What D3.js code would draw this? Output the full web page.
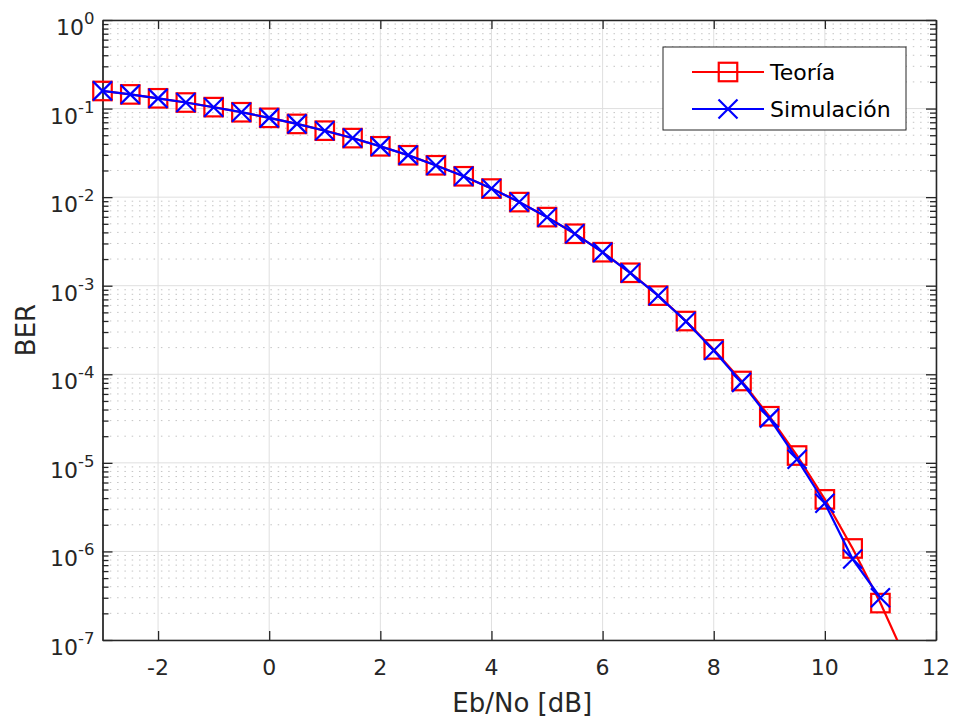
<!DOCTYPE html>
<html>
<head>
<meta charset="utf-8">
<script src="https://cdn.jsdelivr.net/npm/d3@7"></script>
<style>
	body { margin: 0; background: #fff; }
	svg { display: block; font-family: "DejaVu Sans", sans-serif; }
</style>
</head>
<body>
<script>
// Data
const theoryEbNo = [-3, -2.5, -2, -1.5, -1, -0.5, 0, 0.5, 1, 1.5, 2, 2.5, 3, 3.5, 4, 4.5, 5, 5.5, 6, 6.5, 7, 7.5, 8, 8.5, 9, 9.5, 10, 10.5, 11, 11.5, 12];
const theoryBer = [0.158, 0.1445, 0.1306, 0.117, 0.1038, 0.0909, 0.0786, 0.0671, 0.0563, 0.0464, 0.0375, 0.0297, 0.0229, 0.0172, 0.0125, 0.00879, 0.00595, 0.00386, 0.00239, 0.0014, 0.000773, 0.000399, 0.000191, 8.4e-5, 3.36e-5, 1.21e-5, 3.87e-6, 1.08e-6, 2.61e-7, 5.3e-8, 9.0e-9];

const simEbNo = [-3, -2.5, -2, -1.5, -1, -0.5, 0, 0.5, 1, 1.5, 2, 2.5, 3, 3.5, 4, 4.5, 5, 5.5, 6, 6.5, 7, 7.5, 8, 8.5, 9, 9.5, 10, 10.5, 11];
const simBer = [0.1585, 0.1447, 0.1303, 0.1172, 0.1036, 0.0911, 0.0785, 0.0672, 0.0562, 0.0465, 0.0374, 0.0298, 0.0228, 0.0172, 0.0125, 0.0088, 0.00593, 0.00387, 0.00238, 0.00139, 0.000772, 0.000395, 0.000186, 8.1e-5, 3.2e-5, 1.1e-5, 3.5e-6, 8.2e-7, 3.0e-7];

const xTicks = [-2, 0, 2, 4, 6, 8, 10, 12];
const yExponents = [0, -1, -2, -3, -4, -5, -6, -7];
const legendLabels = ["Teoría", "Simulación"];

const textColor = "#262626";
const red = "#ff0000";
const blue = "#0000ff";

const dimensions = {
	width: 954,
	height: 718,
	margin: { top: 20, right: 18, bottom: 78, left: 102.5 }
};
dimensions.boundedWidth = dimensions.width - dimensions.margin.left - dimensions.margin.right;
dimensions.boundedHeight = dimensions.height - dimensions.margin.top - dimensions.margin.bottom;

const svg = d3.select("body").append("svg")
	.attr("width", dimensions.width)
	.attr("height", dimensions.height);

const bounds = svg.append("g")
	.attr("transform", `translate(${dimensions.margin.left}, ${dimensions.margin.top})`);

const xScale = d3.scaleLinear()
	.domain([-3, 12])
	.range([0, dimensions.boundedWidth]);

const yScale = d3.scaleLog()
	.domain([1e-7, 1])
	.range([dimensions.boundedHeight, 0]);

svg.append("defs").append("clipPath")
	.attr("id", "plot-clip")
	.append("rect")
	.attr("width", dimensions.boundedWidth)
	.attr("height", dimensions.boundedHeight);

// minor ticks 2..9 for each decade
const minorValues = [];
yExponents.slice(1).forEach(e => {
	for (let m = 2; m <= 9; m++) minorValues.push(m * Math.pow(10, e));
});

// grid
const grid = bounds.append("g");
grid.selectAll(".minor")
	.data(minorValues)
	.join("line")
	.attr("class", "minor")
	.attr("x1", 0)
	.attr("x2", dimensions.boundedWidth)
	.attr("y1", d => yScale(d))
	.attr("y2", d => yScale(d))
	.attr("stroke", "#c4c4c4")
	.attr("stroke-width", 1)
	.attr("stroke-dasharray", "1.5,5.8");

grid.selectAll(".majorY")
	.data(yExponents.map(e => Math.pow(10, e)))
	.join("line")
	.attr("class", "majorY")
	.attr("x1", 0)
	.attr("x2", dimensions.boundedWidth)
	.attr("y1", d => yScale(d))
	.attr("y2", d => yScale(d))
	.attr("stroke", "#dfdfdf")
	.attr("stroke-width", 1);

grid.selectAll(".majorX")
	.data(xTicks)
	.join("line")
	.attr("class", "majorX")
	.attr("x1", d => xScale(d))
	.attr("x2", d => xScale(d))
	.attr("y1", 0)
	.attr("y2", dimensions.boundedHeight)
	.attr("stroke", "#dfdfdf")
	.attr("stroke-width", 1);

// axes (box with mirrored ticks)
const xAxisBottom = d3.axisBottom(xScale).tickValues(xTicks).tickSizeInner(-9).tickSizeOuter(0).tickFormat("");
const xAxisTop = d3.axisTop(xScale).tickValues(xTicks).tickSizeInner(-9).tickSizeOuter(0).tickFormat("");
const yMajor = yExponents.map(e => Math.pow(10, e));
const yAxisLeft = d3.axisLeft(yScale).tickValues(yMajor).tickSizeInner(-10).tickSizeOuter(0).tickFormat("");
const yAxisRight = d3.axisRight(yScale).tickValues(yMajor).tickSizeInner(-10).tickSizeOuter(0).tickFormat("");
const yMinorLeft = d3.axisLeft(yScale).tickValues(minorValues).tickSizeInner(-6).tickSizeOuter(0).tickFormat("");
const yMinorRight = d3.axisRight(yScale).tickValues(minorValues).tickSizeInner(-6).tickSizeOuter(0).tickFormat("");

function styleAxis(g) {
	g.selectAll("path, line").attr("stroke", textColor).attr("stroke-width", 1.3);
}

bounds.append("g").attr("transform", `translate(0, ${dimensions.boundedHeight})`).call(xAxisBottom).call(styleAxis);
bounds.append("g").call(xAxisTop).call(styleAxis);
bounds.append("g").call(yAxisLeft).call(styleAxis);
bounds.append("g").call(yMinorLeft).call(styleAxis);
bounds.append("g").attr("transform", `translate(${dimensions.boundedWidth}, 0)`).call(yAxisRight).call(styleAxis);
bounds.append("g").attr("transform", `translate(${dimensions.boundedWidth}, 0)`).call(yMinorRight).call(styleAxis);

// tick labels
bounds.selectAll(".xlabel")
	.data(xTicks)
	.join("text")
	.attr("class", "xlabel")
	.attr("x", d => xScale(d))
	.attr("y", dimensions.boundedHeight + 35)
	.attr("text-anchor", "middle")
	.attr("font-size", 22)
	.attr("fill", textColor)
	.text(d => d);

const yLabels = bounds.selectAll(".ylabel")
	.data(yExponents)
	.join("text")
	.attr("class", "ylabel")
	.attr("x", -8)
	.attr("y", d => yScale(Math.pow(10, d)) + 15)
	.attr("text-anchor", "end")
	.attr("fill", textColor);
yLabels.append("tspan")
	.attr("font-size", 22)
	.text("10");
yLabels.append("tspan")
	.attr("font-size", 16.5)
	.attr("dy", -11)
	.text(d => d);

// axis titles
svg.append("text")
	.attr("x", dimensions.margin.left + dimensions.boundedWidth / 2 + 3)
	.attr("y", 712)
	.attr("text-anchor", "middle")
	.attr("font-size", 26)
	.attr("fill", textColor)
	.text("Eb/No [dB]");

svg.append("text")
	.attr("transform", `translate(35, ${dimensions.margin.top + dimensions.boundedHeight / 2}) rotate(-90)`)
	.attr("text-anchor", "middle")
	.attr("font-size", 26)
	.attr("fill", textColor)
	.text("BER");

// series
const theory = theoryEbNo.map((d, i) => ({ x: d, y: theoryBer[i] }));
const sim = simEbNo.map((d, i) => ({ x: d, y: simBer[i] }));

const lineGen = d3.line()
	.x(d => xScale(d.x))
	.y(d => yScale(d.y));

const inView = d => d.y >= 1e-7 && d.y <= 1;
const sq = 18.5;
const xs = 9.5;

bounds.append("path")
	.datum(theory)
	.attr("clip-path", "url(#plot-clip)")
	.attr("d", lineGen)
	.attr("fill", "none")
	.attr("stroke", red)
	.attr("stroke-width", 2.2);

bounds.selectAll(".sq")
	.data(theory.filter(inView))
	.join("rect")
	.attr("class", "sq")
	.attr("x", d => xScale(d.x) - sq / 2)
	.attr("y", d => yScale(d.y) - sq / 2)
	.attr("width", sq)
	.attr("height", sq)
	.attr("fill", "none")
	.attr("stroke", red)
	.attr("stroke-width", 2.2);

bounds.append("path")
	.datum(sim)
	.attr("clip-path", "url(#plot-clip)")
	.attr("d", lineGen)
	.attr("fill", "none")
	.attr("stroke", blue)
	.attr("stroke-width", 2.2);

bounds.selectAll(".xm")
	.data(sim.filter(inView))
	.join("path")
	.attr("class", "xm")
	.attr("d", d => {
		const cx = xScale(d.x), cy = yScale(d.y);
		return `M${cx - xs},${cy - xs}L${cx + xs},${cy + xs}M${cx - xs},${cy + xs}L${cx + xs},${cy - xs}`;
	})
	.attr("fill", "none")
	.attr("stroke", blue)
	.attr("stroke-width", 2.2);

// legend
const legend = svg.append("g")
	.attr("transform", "translate(663, 47)");

legend.append("rect")
	.attr("width", 243)
	.attr("height", 83)
	.attr("fill", "#fff")
	.attr("stroke", textColor)
	.attr("stroke-width", 1);

const legendColors = [red, blue];
legendLabels.forEach((label, i) => {
	const cy = 25 + i * 37;
	const row = legend.append("g");
	row.append("line")
		.attr("x1", 29)
		.attr("x2", 101)
		.attr("y1", cy)
		.attr("y2", cy)
		.attr("stroke", legendColors[i])
		.attr("stroke-width", 2.2);
	if (i === 0) {
		row.append("rect")
			.attr("x", 65 - sq / 2)
			.attr("y", cy - sq / 2)
			.attr("width", sq)
			.attr("height", sq)
			.attr("fill", "none")
			.attr("stroke", red)
			.attr("stroke-width", 2.2);
	} else {
		row.append("path")
			.attr("d", `M${65 - xs},${cy - xs}L${65 + xs},${cy + xs}M${65 - xs},${cy + xs}L${65 + xs},${cy - xs}`)
			.attr("stroke", blue)
			.attr("stroke-width", 2.2);
	}
	row.append("text")
		.attr("x", 107)
		.attr("y", cy + 7.5)
		.attr("font-size", 22)
		.attr("fill", "#000")
		.text(label);
});
</script>
</body>
</html>
